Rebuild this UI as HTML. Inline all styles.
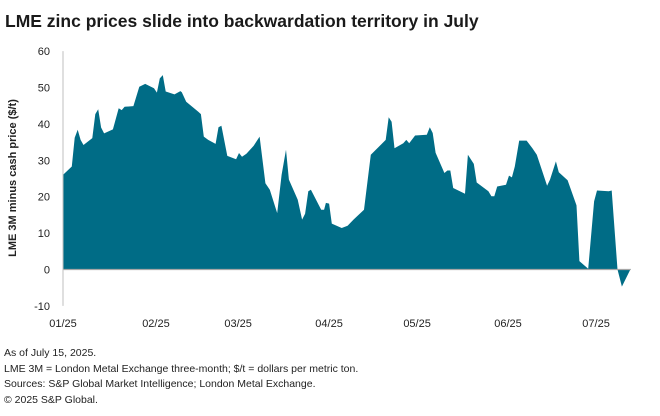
<!DOCTYPE html>
<html><head><meta charset="utf-8"><style>
body{margin:0;background:#fff;width:660px;height:416px;overflow:hidden;font-family:"Liberation Sans",sans-serif;}
svg{position:absolute;left:0;top:0}
</style></head><body>
<svg width="660" height="416" id="chart" font-family="Liberation Sans, sans-serif">
<text x="5" y="27" font-size="17.5" font-weight="bold" fill="#1a1a1a">LME zinc prices slide into backwardation territory in July</text>
<g id="yticks"></g>
<g id="xticks"></g>
<text transform="translate(16,178) rotate(-90)" text-anchor="middle" font-size="11" font-weight="bold" fill="#222">LME 3M minus cash price ($/t)</text>
<path id="area" fill="#006c86"></path>
<line id="zero" stroke="#a6a6a6" stroke-width="1.3"></line>
<line id="yaxis" stroke="#bfbfbf" stroke-width="1"></line>
<g font-size="10.5" fill="#222">
<text x="4" y="356">As of July 15, 2025.</text>
<text x="4" y="372">LME 3M = London Metal Exchange three-month; $/t = dollars per metric ton.</text>
<text x="4" y="387">Sources: S&amp;P Global Market Intelligence; London Metal Exchange.</text>
<text x="4" y="403">© 2025 S&amp;P Global.</text>
</g>
</svg>
<script>
const days=[0,3,4,5,6,7,10,11,12,13,14,17,19,20,21,24,26,28,31,32,33,34,35,38,40,40.5,42,46,47,48,49.5,52,53,54,56,59,60,61,62.5,65,67,69,70.5,73,74.5,76,77,80,81.5,82.5,83.6,84.5,88,89,89.6,90.7,91.6,95,97,99,102.6,104.9,110,111,112,113,116,117,118,120,124,125,126,127,130,131,132,133,137,138,140,141,145,146,147,148,151,152,153,154,155.5,158,160,161.5,165,166,168,169,172,175,176,179,181,182,186,187,189,190.5,193.5];
const values=[26,28.3,36.2,38.4,35.6,34.2,36.1,42.7,44,39,37.4,38.5,44.3,43.8,44.7,44.9,50.2,51,49.8,48.6,52.5,53.4,48.9,48.1,49,48.7,46.1,43.4,42.7,36.5,35.6,34.5,39.1,39.5,31.2,30.3,32,31,31.8,34,36.5,23.7,21.9,15.5,26,32.9,24.7,19.2,13.7,15.3,21.5,21.9,16.4,16.4,18.3,18.1,12.6,11.4,12,13.7,16.4,31.5,35.6,41.8,40.6,33.3,34.7,35.6,34.7,36.8,37,39.1,37.5,32.1,26.5,27.2,27.2,22.4,20.8,31.5,29,23.9,21.5,20.1,20.1,22.8,23.3,25.8,25.3,28.3,35.4,35.4,33.3,31.5,23,24.7,29.7,26.7,24.5,17.6,2.3,0.2,18.7,21.7,21.5,21.7,0,-4.7,0.2];
const yTicks=[60,50,40,30,20,10,0,-10];
const xLabels=["01/25","02/25","03/25","04/25","05/25","06/25","07/25"];
const xLabelDays=[0,31,59,90,120,151,181];
const NS="http://www.w3.org/2000/svg";
const X=d=>63+d*2.934;
const Y=v=>269.5-v*3.64;
const svg=document.getElementById('chart');
const yg=document.getElementById('yticks');
yTicks.forEach(t=>{const e=document.createElementNS(NS,'text');


e.setAttribute('x',50);e.setAttribute('y',Y(t)+4);e.setAttribute('text-anchor','end');e.setAttribute('font-size','11');e.setAttribute('fill','#222');e.textContent=t;yg.appendChild(e);});
const xg=document.getElementById('xticks');
xLabels.forEach((l,i)=>{const e=document.createElementNS(NS,'text');


e.setAttribute('x',X(xLabelDays[i])+(i==0?0:2));e.setAttribute('y',327);e.setAttribute('text-anchor','middle');e.setAttribute('font-size','11');e.setAttribute('fill','#222');e.textContent=l;xg.appendChild(e);});
let d='M'+X(days[0])+','+Y(0);
days.forEach((dd,i)=>{d+=' L'+X(dd).toFixed(1)+','+Y(values[i]).toFixed(1);});
d+=' L'+X(days[days.length-1]).toFixed(1)+','+Y(0)+' Z';
document.getElementById('area').setAttribute('d',d);
const z=document.getElementById('zero');z.setAttribute('x1',63);z.setAttribute('x2',X(days[days.length-1]));z.setAttribute('y1',Y(0));z.setAttribute('y2',Y(0));
const ya=document.getElementById('yaxis');ya.setAttribute('x1',63);ya.setAttribute('x2',63);ya.setAttribute('y1',Y(60));ya.setAttribute('y2',Y(-10));
</script>
</body></html>
